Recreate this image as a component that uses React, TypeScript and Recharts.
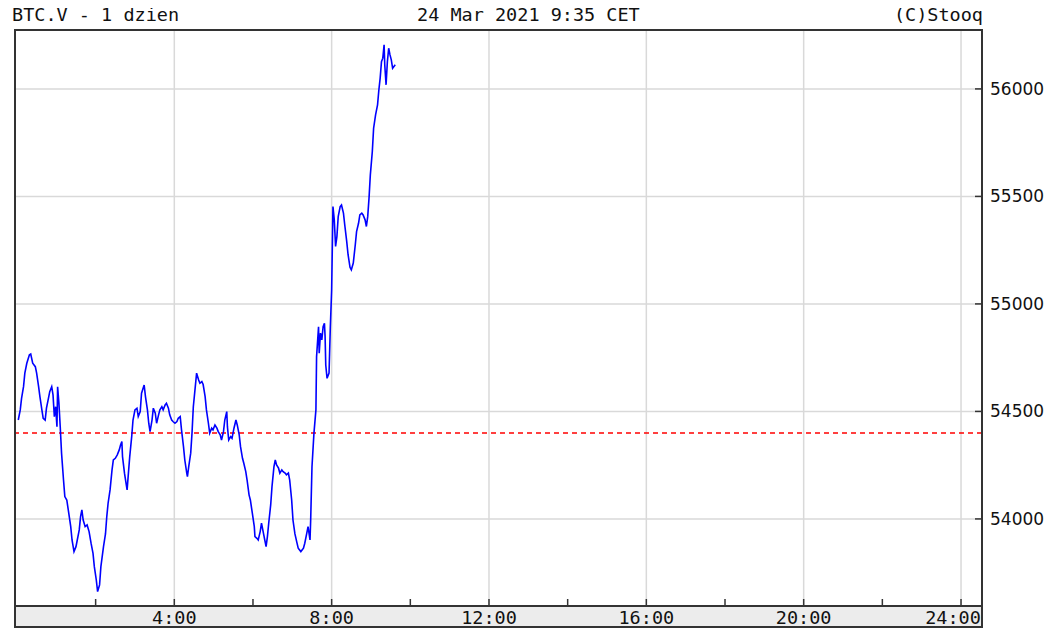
import React from 'react';
import { LineChart, Line, XAxis, YAxis, CartesianGrid, ReferenceLine } from 'recharts';

// minutes since 0:00 CET
const minutes = [
  2, 5, 7, 10, 12, 15, 19, 21, 24, 28, 30, 33, 35, 38, 40, 43, 45, 48, 50, 53,
  55, 57, 59, 61, 62, 64, 66, 68, 71, 73, 76, 79, 82, 84, 87, 90, 92, 95, 97, 99,
  101, 104, 107, 110, 113, 116, 118, 121, 123, 126, 128, 132, 135, 137, 139, 142, 145, 147, 150, 153,
  156, 158, 160, 161, 164, 166, 168, 170, 172, 175, 177, 180, 183, 185, 188, 190, 194, 196, 199, 201,
  203, 206, 208, 211, 213, 216, 218, 221, 223, 226, 228, 231, 233, 236, 238, 241, 244, 246, 249, 251,
  254, 256, 259, 260, 262, 265, 267, 269, 272, 274, 277, 279, 282, 284, 287, 289, 292, 294, 297, 299,
  302, 305, 307, 310, 312, 315, 317, 320, 321, 323, 326, 328, 331, 334, 336, 339, 341, 344, 346, 349,
  351, 354, 356, 359, 362, 363, 366, 368, 371, 373, 376, 378, 380, 382, 384, 387, 389, 392, 394, 396,
  399, 401, 404, 406, 409, 411, 414, 416, 419, 421, 424, 427, 429, 433, 437, 439, 442, 444, 447, 448,
  450, 453, 456, 457, 460, 461, 463, 465, 467, 469, 470, 471, 473, 476, 478, 480, 482, 484, 486, 488,
  490, 493, 495, 498, 500, 503, 505, 508, 510, 513, 516, 518, 521, 523, 526, 528, 531, 533, 535, 537,
  539, 542, 544, 547, 550, 552, 554, 556, 558, 560, 561, 563, 565, 567, 569, 571, 573, 575, 577,
];

const prices = [
  54460, 54507, 54561, 54615, 54678, 54724, 54763, 54767, 54724, 54708, 54678, 54615, 54569, 54507, 54468, 54460, 54515, 54561, 54592, 54615,
  54577, 54476, 54522, 54429, 54615, 54538, 54429, 54306, 54181, 54104, 54088, 54027, 53964, 53902, 53848, 53871, 53902, 53949, 54011, 54042,
  53995, 53964, 53972, 53941, 53887, 53840, 53778, 53716, 53662, 53693, 53778, 53871, 53930, 54011, 54073, 54135, 54228, 54274, 54282, 54298,
  54321, 54344, 54360, 54290, 54213, 54173, 54135, 54213, 54290, 54383, 54460, 54507, 54515, 54476, 54499, 54585, 54623, 54569, 54507, 54445,
  54406, 54460, 54515, 54492, 54445, 54484, 54507, 54522, 54507, 54530, 54538, 54515, 54484, 54460, 54453, 54445, 54453, 54468, 54476, 54414,
  54336, 54274, 54213, 54197, 54243, 54306, 54399, 54522, 54615, 54678, 54647, 54631, 54639, 54625, 54569, 54507, 54445, 54399, 54422, 54414,
  54437, 54422, 54406, 54391, 54367, 54406, 54460, 54499, 54429, 54367, 54383, 54375, 54422, 54460, 54437, 54391, 54336, 54282, 54259, 54220,
  54181, 54112, 54088, 54027, 53964, 53918, 53910, 53902, 53941, 53980, 53933, 53902, 53871, 53918, 53980, 54065, 54150, 54243, 54274, 54251,
  54236, 54213, 54228, 54220, 54213, 54205, 54213, 54181, 54088, 53995, 53930, 53890, 53864, 53848, 53864, 53887, 53933, 53964, 53902, 53995,
  54243, 54399, 54507, 54755, 54894, 54771, 54864, 54833, 54894, 54910, 54848, 54716, 54654, 54678, 54894, 55065, 55453, 55391, 55267, 55313,
  55406, 55453, 55460, 55422, 55367, 55290, 55230, 55170, 55158, 55190, 55274, 55336, 55375, 55414, 55422, 55414, 55391, 55360, 55406, 55492,
  55600, 55708, 55817, 55879, 55926, 55995, 56050, 56127, 56143, 56205, 56112, 56019, 56127, 56189, 56158, 56135, 56096, 56104, 56112,
];

const prevClose = 54400;
const yTicks = [54000, 54500, 55000, 55500, 56000];
const xTicks = [120, 240, 360, 480, 600, 720, 840, 960, 1080, 1200, 1320, 1440];
const xLabelTicks = [240, 480, 720, 960, 1200, 1440];
const xDomain = [-3, 1472];
const yDomain = [53595, 56274];

const title = 'BTC.V - 1 dzien';
const stamp = '24 Mar 2021 9:35 CET';
const credit = '(C)Stooq';

const data = minutes.map((m, i) => ({ m, p: prices[i] }));

const fmtTime = (m: number) => `${Math.floor(m / 60)}:${String(m % 60).padStart(2, '0')}`;

const MONO = '"DejaVu Sans Mono", "Liberation Mono", monospace';
const SANS = '"DejaVu Sans", Verdana, sans-serif';
const FRAME = '#333';
const TICK_LEN = 7;
const Y_TICK_MARGIN = 8;

const BottomTick = (props: any) => {
  const { x, y, payload } = props;
  const v = payload.value as number;
  const show = xLabelTicks.includes(v);
  const dx = v === 1440 ? -8 : 0;
  return (
    <g>
      <line x1={x} x2={x} y1={y} y2={y - TICK_LEN} stroke={FRAME} strokeWidth={1.5} />
      {show && (
        <text x={x + dx} y={y + 18} textAnchor="middle" fontFamily={MONO} fontSize={18.5} fill="#111">
          {fmtTime(v)}
        </text>
      )}
    </g>
  );
};

const TopTick = (props: any) => {
  const { x, y } = props;
  return <line x1={x} x2={x} y1={y} y2={y + TICK_LEN} stroke={FRAME} strokeWidth={1.5} />;
};

const RightTick = (props: any) => {
  const { x, y, payload } = props;
  const edge = x - Y_TICK_MARGIN;
  return (
    <g>
      <line x1={edge} x2={edge - TICK_LEN} y1={y} y2={y} stroke={FRAME} strokeWidth={1.5} />
      <text x={x} y={y + 6} textAnchor="start" fontFamily={SANS} fontSize={17} fill="#111">
        {payload.value}
      </text>
    </g>
  );
};

const W = 1040;
const H = 625;
const M = { top: 22, right: 8, bottom: 5, left: 7 };
const Y_W = 58;
const X_H = 22;
const plotL = M.left;
const plotR = W - M.right - Y_W;
const plotT = M.top;
const plotB = H - M.bottom - X_H;

const headerStyle: React.CSSProperties = {
  position: 'absolute',
  top: -2,
  fontFamily: MONO,
  fontSize: 18.5,
  lineHeight: '18px',
  whiteSpace: 'pre',
  color: '#111',
};

export default function App() {
  return (
    <div style={{ position: 'relative', width: W, height: H, background: '#fff' }}>
      <div
        style={{
          position: 'absolute',
          left: plotL - 1,
          top: plotB - 1,
          width: plotR - plotL + 2,
          height: H - M.bottom - plotB + 1,
          background: '#ececec',
          border: `2px solid ${FRAME}`,
          boxSizing: 'border-box',
        }}
      />
      <div style={{ position: 'absolute', left: 0, top: 0 }}>
        <LineChart width={W} height={H} data={data} margin={M}>
          <CartesianGrid vertical={false} stroke="#d9d9d9" strokeWidth={1.5} />
          {xLabelTicks.map((v) => (
            <ReferenceLine key={v} x={v} stroke="#d9d9d9" strokeWidth={1.5} />
          ))}
          <XAxis
            dataKey="m"
            type="number"
            domain={xDomain}
            ticks={xTicks}
            interval={0}
            tick={BottomTick}
            tickSize={0}
            tickMargin={0}
            axisLine={false}
            tickLine={false}
            height={X_H}
            allowDataOverflow
          />
          <XAxis
            xAxisId="top"
            orientation="top"
            dataKey="m"
            type="number"
            domain={xDomain}
            ticks={xTicks}
            interval={0}
            tick={TopTick}
            tickSize={0}
            tickMargin={0}
            axisLine={false}
            tickLine={false}
            height={0}
            allowDataOverflow
          />
          <YAxis
            orientation="right"
            type="number"
            domain={yDomain}
            ticks={yTicks}
            interval={0}
            tick={RightTick}
            tickSize={0}
            tickMargin={Y_TICK_MARGIN}
            axisLine={false}
            tickLine={false}
            width={Y_W}
            allowDataOverflow
          />
          <ReferenceLine y={prevClose} stroke="#ff0000" strokeDasharray="5 4" strokeWidth={1.5} />
          <Line
            type="linear"
            dataKey="p"
            stroke="#0000ff"
            strokeWidth={1.6}
            dot={false}
            isAnimationActive={false}
          />
        </LineChart>
      </div>
      <div
        style={{
          position: 'absolute',
          left: plotL - 1,
          top: plotT - 1,
          width: plotR - plotL + 2,
          height: plotB - plotT + 2,
          border: `2px solid ${FRAME}`,
          boxSizing: 'border-box',
          pointerEvents: 'none',
        }}
      />
      <div style={{ ...headerStyle, left: 4 }}>{title}</div>
      <div style={{ ...headerStyle, left: 409 }}>{stamp}</div>
      <div style={{ ...headerStyle, right: W - plotR - 1 }}>{credit}</div>
    </div>
  );
}
